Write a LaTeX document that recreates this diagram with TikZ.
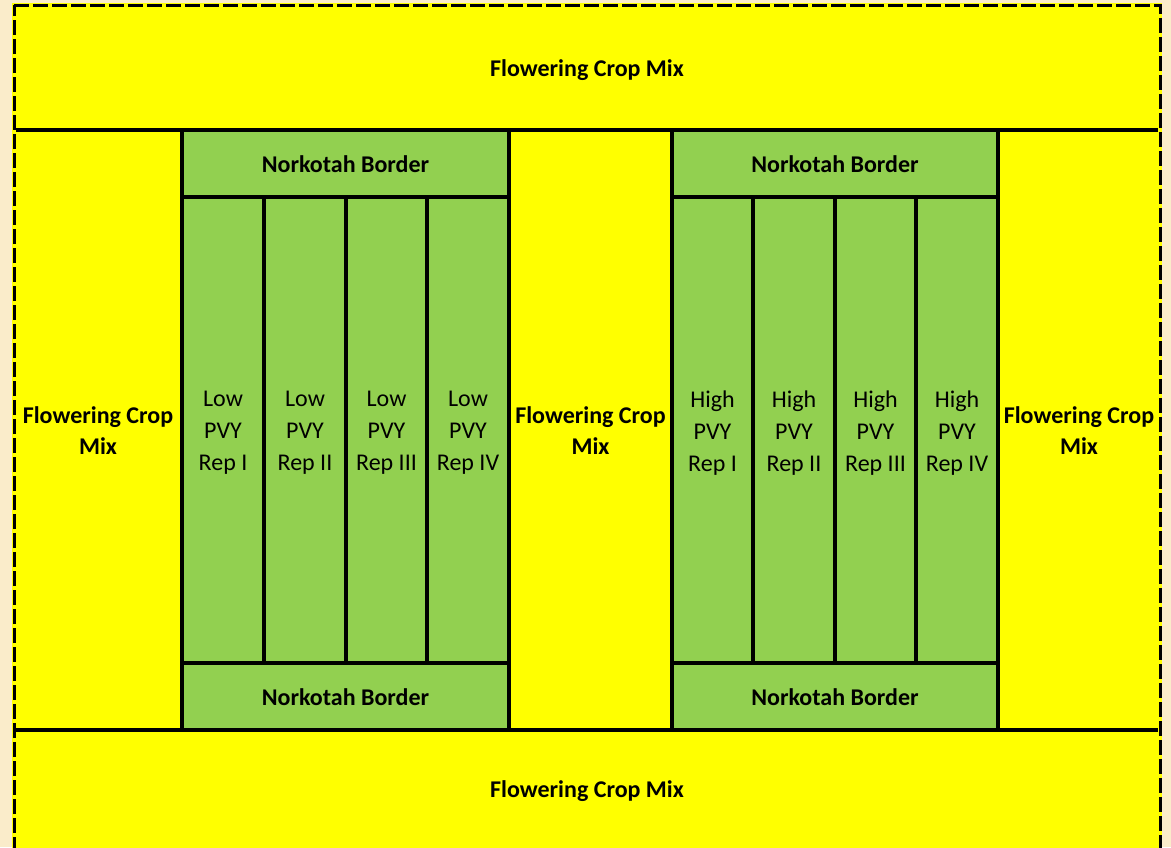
\documentclass[tikz,border=0pt]{standalone}
\usepackage{fontspec}
\setmainfont{Carlito}
\definecolor{cropyellow}{RGB}{255,255,0}
\definecolor{plotgreen}{RGB}{146,208,80}
\definecolor{slidebg}{RGB}{250,236,202}
\tikzset{
  cellbox/.style={draw=black,line width=3.2pt,inner sep=0pt,outer sep=0pt},
  celltext/.style={inner sep=0pt,align=center,yshift=-3pt,font=\fontsize{24}{32}\selectfont},
  crop/.style={fill=cropyellow},
  border/.style={fill=plotgreen},
  rep/.style={fill=plotgreen},
  boldtext/.style={yshift=2pt,font=\fontsize{24}{31}\selectfont\bfseries},
  outerdash/.style={draw=black,line width=3pt,dash pattern=on 15pt off 4pt}
}
% #1 name, #2 x1, #3 y1, #4 x2, #5 y2, #6 box style, #7 text style, #8 text
\newcommand\mycell[8]{%
  \pgfmathsetmacro\cw{#4-#2}\pgfmathsetmacro\ch{#5-#3}%
  \node[cellbox,#6,minimum width=\cw pt,minimum height=\ch pt,anchor=north west] (#1) at (#2,#3) {};
  \node[celltext,#7] (#1-text) at (#1.center) {#8};}
\begin{document}
\begin{tikzpicture}[x=1pt,y=-1pt]
\useasboundingbox (0,0) rectangle (1171,847);
\fill[slidebg] (0,0) rectangle (1171,847);
\clip (0,0) rectangle (1171,847);
% yellow bands and columns
\mycell{topband}{14}{5}{1160}{130}{crop}{boldtext,yshift=-2pt}{Flowering Crop Mix}
\mycell{botband}{14}{730}{1160}{850}{crop}{boldtext}{Flowering Crop Mix}
\mycell{leftcol}{14}{130}{182}{730}{crop}{boldtext}{Flowering Crop\\Mix}
\mycell{midcol}{509}{130}{672}{730}{crop}{boldtext}{Flowering Crop\\Mix}
\mycell{rightcol}{998}{130}{1160}{730}{crop}{boldtext}{Flowering Crop\\Mix}
% left (low PVY) block
\mycell{lbt}{182}{130}{509}{197}{border}{boldtext}{Norkotah Border}
\mycell{lbb}{182}{663}{509}{730}{border}{boldtext}{Norkotah Border}
\mycell{low1}{182}{197}{264}{663}{rep}{}{Low\\PVY\\Rep I}
\mycell{low2}{264}{197}{346}{663}{rep}{}{Low\\PVY\\Rep II}
\mycell{low3}{346}{197}{427}{663}{rep}{}{Low\\PVY\\Rep III}
\mycell{low4}{427}{197}{509}{663}{rep}{}{Low\\PVY\\Rep IV}
% right (high PVY) block
\mycell{rbt}{672}{130}{998}{197}{border}{boldtext}{Norkotah Border}
\mycell{rbb}{672}{663}{998}{730}{border}{boldtext}{Norkotah Border}
\mycell{high1}{672}{197}{753}{663}{rep}{}{High\\PVY\\Rep I}
\mycell{high2}{753}{197}{835}{663}{rep}{}{High\\PVY\\Rep II}
\mycell{high3}{835}{197}{916}{663}{rep}{}{High\\PVY\\Rep III}
\mycell{high4}{916}{197}{998}{663}{rep}{}{High\\PVY\\Rep IV}
% dashed outer boundary
\draw[cropyellow,line width=3.4pt] (topband.north west) -- (topband.north east) -- (botband.south east) -- (botband.south west) -- cycle;
\draw[outerdash] (topband.north west) -- (topband.north east) -- (botband.south east) -- (botband.south west) -- cycle;
\end{tikzpicture}
\end{document}
